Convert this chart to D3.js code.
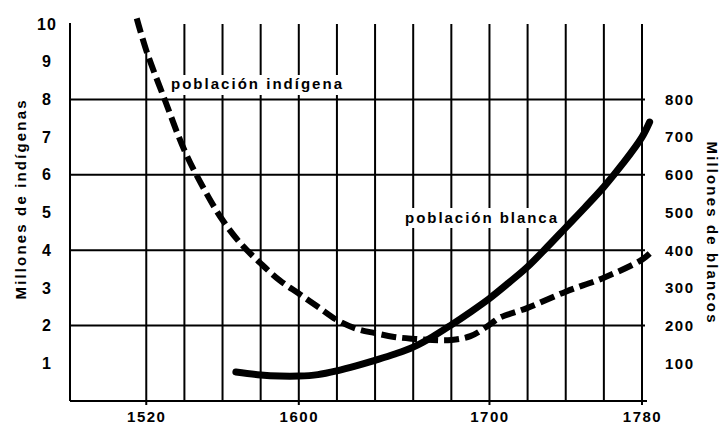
<!DOCTYPE html>
<html>
<head>
<meta charset="utf-8">
<script src="https://cdn.jsdelivr.net/npm/d3@7"></script>
<style>
  body { margin: 0; background: #fff; }
  svg { display: block; }
  text { font-family: "Liberation Sans", Arial, sans-serif; font-weight: bold; fill: #000; }
</style>
</head>
<body>
<svg width="720" height="426"></svg>
<script>
// población indígena (millones, escala izquierda)
const indigenaYears = [1515, 1520, 1530, 1540, 1550, 1560, 1570, 1580, 1590, 1600, 1610, 1620, 1630, 1640, 1650, 1660, 1670, 1680, 1690, 1700, 1705, 1720, 1740, 1760, 1780, 1785];
const indigenaValues = [10.15, 9.3, 7.95, 6.65, 5.65, 4.8, 4.15, 3.65, 3.2, 2.85, 2.5, 2.15, 1.92, 1.8, 1.7, 1.65, 1.62, 1.62, 1.72, 2.02, 2.2, 2.47, 2.9, 3.27, 3.75, 3.96];

// población blanca (escala derecha)
const blancaYears = [1567, 1580, 1590, 1600, 1610, 1620, 1630, 1640, 1650, 1660, 1670, 1680, 1690, 1700, 1710, 1720, 1730, 1740, 1750, 1760, 1770, 1780, 1784];
const blancaValues = [77, 69, 66, 66, 70, 80, 93, 108, 124, 143, 170, 202, 236, 272, 313, 356, 407, 460, 513, 568, 630, 700, 740];

const xTicks = [1520, 1600, 1700, 1780];
const gridYears = d3.range(1520, 1781, 20);
const gridValues = [2, 4, 6, 8];
const leftTicks = d3.range(1, 11);
const rightTicks = d3.range(100, 801, 100);

const svg = d3.select("svg");

const x = d3.scaleLinear().domain([1480, 1780]).range([70, 642]);
const yL = d3.scaleLinear().domain([0, 10]).range([401, 24]);
const yR = d3.scaleLinear().domain([0, 1000]).range([401, 24]);

// grid
const grid = svg.append("g").attr("stroke", "#000").attr("stroke-width", 2);

// the 1520 line only starts where the dashed curve crosses it
const gridTop = yr => {
    const i = indigenaYears.indexOf(yr);
    return yr <= 1520 && i >= 0 ? yL(indigenaValues[i]) : 24;
};

grid.selectAll("line.v")
    .data(gridYears)
    .enter().append("line")
    .attr("class", "v")
    .attr("x1", d => x(d)).attr("x2", d => x(d))
    .attr("y1", d => gridTop(d))
    .attr("y2", d => xTicks.includes(d) ? 405 : 401);

grid.selectAll("line.h")
    .data(gridValues)
    .enter().append("line")
    .attr("class", "h")
    .attr("x1", x(1480)).attr("x2", 645)
    .attr("y1", d => yL(d)).attr("y2", d => yL(d));

// frame: left side and bottom
grid.append("line")
    .attr("x1", x(1480)).attr("x2", x(1480))
    .attr("y1", 23).attr("y2", yL(0));
grid.append("line")
    .attr("x1", x(1480)).attr("x2", 647)
    .attr("y1", yL(0)).attr("y2", yL(0));

// white patches behind the curve labels
const labels = [
    {text: "población indígena", x0: 171, x1: 342, y: 89, rx: [167, 347], ry: [75, 95]},
    {text: "población blanca", x0: 405, x1: 557, y: 223, rx: [400, 561], ry: [208, 228]}
];
svg.selectAll("rect.bg")
    .data(labels)
    .enter().append("rect")
    .attr("x", d => d.rx[0]).attr("width", d => d.rx[1] - d.rx[0])
    .attr("y", d => d.ry[0]).attr("height", d => d.ry[1] - d.ry[0])
    .attr("fill", "#fff");
svg.selectAll("text.lbl")
    .data(labels)
    .enter().append("text")
    .attr("x", d => d.x0).attr("y", d => d.y)
    .attr("textLength", d => d.x1 - d.x0)
    .attr("lengthAdjust", "spacing")
    .style("font-size", "15px")
    .text(d => d.text);

// curves
const indigena = indigenaYears.map((yr, i) => [yr, indigenaValues[i]]);
const blanca = blancaYears.map((yr, i) => [yr, blancaValues[i]]);

const lineL = d3.line().x(d => x(d[0])).y(d => yL(d[1])).curve(d3.curveCatmullRom.alpha(0.5));
const lineR = d3.line().x(d => x(d[0])).y(d => yR(d[1])).curve(d3.curveCatmullRom.alpha(0.5));

svg.append("path")
    .datum(blanca)
    .attr("d", lineR)
    .attr("fill", "none")
    .attr("stroke", "#000")
    .attr("stroke-width", 7)
    .attr("stroke-linecap", "round");

svg.append("path")
    .datum(indigena)
    .attr("d", lineL)
    .attr("fill", "none")
    .attr("stroke", "#000")
    .attr("stroke-width", 6)
    .attr("stroke-dasharray", "15,6");

// axes (labels only)
const leftAxis = svg.append("g")
    .attr("transform", "translate(55,0)")
    .call(d3.axisLeft(yL).tickValues(leftTicks).tickSize(0).tickPadding(0).tickFormat(d3.format("d")));
leftAxis.select(".domain").remove();
leftAxis.selectAll("text")
    .attr("x", -8)
    .attr("text-anchor", "middle")
    .style("font-size", "16px")
    .style("letter-spacing", "1px")
    .style("font-family", "'Liberation Sans', Arial, sans-serif")
    .style("font-weight", "bold");

const rightAxis = svg.append("g")
    .attr("transform", "translate(665,0)")
    .call(d3.axisRight(yR).tickValues(rightTicks).tickSize(0).tickPadding(0));
rightAxis.select(".domain").remove();
rightAxis.selectAll("text")
    .attr("text-anchor", "start")
    .style("font-size", "15px")
    .style("letter-spacing", "1.5px")
    .style("font-family", "'Liberation Sans', Arial, sans-serif")
    .style("font-weight", "bold");

const bottomAxis = svg.append("g")
    .attr("transform", "translate(0,409)")
    .call(d3.axisBottom(x).tickValues(xTicks).tickSize(0).tickPadding(0).tickFormat(d3.format("d")));
bottomAxis.select(".domain").remove();
bottomAxis.selectAll("text")
    .attr("y", 0)
    .attr("dy", "0.85em")
    .style("font-size", "15px")
    .style("letter-spacing", "1.5px")
    .style("font-family", "'Liberation Sans', Arial, sans-serif")
    .style("font-weight", "bold");

// axis titles
svg.append("text")
    .attr("transform", "translate(26,200) rotate(-90)")
    .attr("text-anchor", "middle")
    .attr("textLength", 199)
    .attr("lengthAdjust", "spacing")
    .style("font-size", "15px")
    .text("Millones de indígenas");

svg.append("text")
    .attr("transform", "translate(707,232) rotate(90)")
    .attr("text-anchor", "middle")
    .attr("textLength", 181)
    .attr("lengthAdjust", "spacing")
    .style("font-size", "15px")
    .text("Millones de blancos");
</script>
</body>
</html>
